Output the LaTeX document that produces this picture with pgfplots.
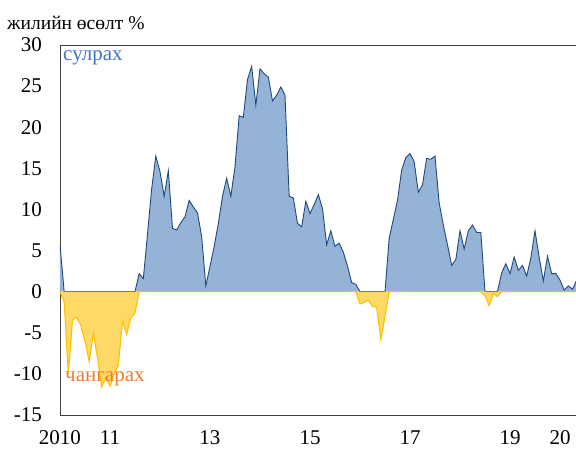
\documentclass[border=0pt]{standalone}
\usepackage{pgfplots}
\pgfplotsset{compat=1.18}
\usepackage{pgfplotstable}
\usepackage{fontspec}
\setmainfont{Liberation Serif}
\definecolor{bfill}{HTML}{95B3D7}
\definecolor{bline}{HTML}{1F497D}
\definecolor{yfill}{HTML}{FFD966}
\definecolor{yline}{HTML}{FFC000}
\definecolor{lblue}{HTML}{4472C4}
\definecolor{lorange}{HTML}{ED7D31}
\pgfplotstableread{
m blue yellow
0 5.7 0
1 0 -1.2
2 0 -10.0
3 0 -3.4
4 0 -3.1
5 0 -4.1
6 0 -6.0
7 0 -8.5
8 0 -5.1
9 0 -8.0
10 0 -11.6
11 0 -10.5
12 0 -11.5
13 0 -10.0
14 0 -8.9
15 0 -3.6
16 0 -5.2
17 0 -3.2
18 0 -2.6
19 2.2 0
20 1.6 0
21 7.0 0
22 12.5 0
23 16.5 0
24 14.6 0
25 11.6 0
26 14.7 0
27 7.7 0
28 7.5 0
29 8.4 0
30 9.1 0
31 11.1 0
32 10.3 0
33 9.6 0
34 6.7 0
35 0.7 0
36 3.1 0
37 5.5 0
38 8.3 0
39 11.6 0
40 13.8 0
41 11.6 0
42 15.2 0
43 21.4 0
44 21.2 0
45 25.8 0
46 27.4 0
47 22.7 0
48 27.1 0
49 26.5 0
50 26.1 0
51 23.2 0
52 23.9 0
53 24.9 0
54 23.9 0
55 11.6 0
56 11.4 0
57 8.3 0
58 7.9 0
59 11.0 0
60 9.5 0
61 10.6 0
62 11.8 0
63 10.1 0
64 5.7 0
65 7.4 0
66 5.5 0
67 5.9 0
68 4.8 0
69 3.1 0
70 1.1 0
71 0.9 0
72 0 -1.5
73 0 -1.3
74 0 -1.0
75 0 -1.8
76 0 -1.9
77 0 -5.8
78 0 -3.0
79 6.5 0
80 8.8 0
81 11.1 0
82 14.8 0
83 16.3 0
84 16.8 0
85 15.8 0
86 12.1 0
87 13.0 0
88 16.2 0
89 16.1 0
90 16.5 0
91 10.8 0
92 8.1 0
93 5.7 0
94 3.2 0
95 3.9 0
96 7.4 0
97 5.2 0
98 7.4 0
99 8.1 0
100 7.2 0
101 7.2 0
102 0 -0.5
103 0 -1.7
104 0 -0.2
105 0 -0.6
106 2.3 0
107 3.4 0
108 2.2 0
109 4.2 0
110 2.6 0
111 3.2 0
112 1.9 0
113 4.1 0
114 7.4 0
115 4.2 0
116 1.3 0
117 4.3 0
118 2.2 0
119 2.2 0
120 1.4 0
121 0.2 0
122 0.7 0
123 0.3 0
124 1.4 0
}\datatable
\begin{document}
\begin{tikzpicture}
\begin{axis}[
  at={(0,0)}, anchor=south west,
  scale only axis, width=516pt, height=370pt,
  xmin=0, xmax=123.84, ymin=-15, ymax=30,
  axis x line*=bottom, axis y line*=left,
  axis line style={black!75, line width=0.8pt},
  xtick={0,12,36,60,84,108,120},
  xticklabels={2010,11,13,15,17,19,20},
  ytick={-15,-10,-5,0,5,10,15,20,25,30},
  yticklabels={-15,-10,-5,0,5,10,15,20,25,30},
  major tick length=0pt,
  tick label style={font=\fontsize{21}{25}\selectfont, inner sep=0pt},
  yticklabel style={anchor=east, xshift=-18pt},
  xticklabel style={anchor=north, yshift=-15pt},
]
\addplot[fill=bfill, draw=none] table[x=m, y=blue] {\datatable} \closedcycle;
\addplot[bline, line width=0.9pt] table[x=m, y=blue] {\datatable};
\addplot[fill=yfill, draw=none] table[x=m, y=yellow] {\datatable} \closedcycle;
\addplot[yline, line width=1.1pt] table[x=m, y=yellow] {\datatable};
\end{axis}
\draw[black!75, line width=0.8pt] (0,370pt) -- (516pt,370pt);
\node[anchor=base west, inner sep=0pt, font=\fontsize{19.5}{23}\selectfont] at (-53pt,385pt) {жилийн өсөлт \%};
\node[anchor=base west, inner sep=0pt, text=lblue, font=\fontsize{21}{25}\selectfont] at (3pt,354.5pt) {сулрах};
\node[anchor=base west, inner sep=0pt, text=lorange, font=\fontsize{21}{25}\selectfont] at (5pt,33.3pt) {чангарах};
\pgfresetboundingbox
\path[use as bounding box] (-60pt,-33pt) rectangle (516pt,415pt);
\end{tikzpicture}
\end{document}
